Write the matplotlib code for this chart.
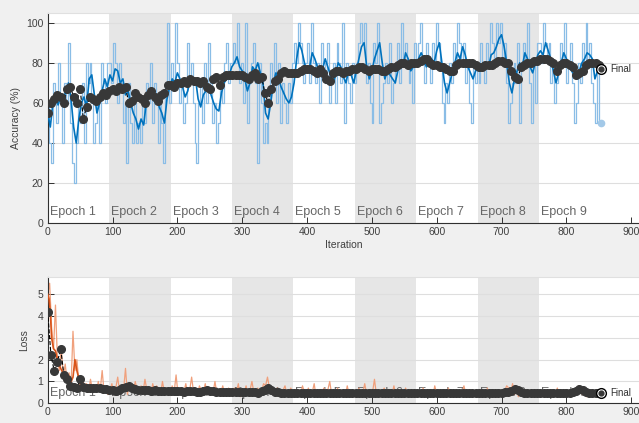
import numpy as np
import matplotlib
matplotlib.use("Agg")
import matplotlib.pyplot as plt

plt.rcParams['font.family'] = ['Liberation Sans', 'DejaVu Sans']

# ---------------- data ----------------
epoch_edges = [0, 95, 190, 284, 379, 474, 568, 663, 758, 853]
epoch_names = ["Epoch 1", "Epoch 2", "Epoch 3", "Epoch 4", "Epoch 5",
               "Epoch 6", "Epoch 7", "Epoch 8", "Epoch 9"]
raw_step = 3      # raw mini-batch values read every 3 iterations
smooth_step = 4   # smoothed accuracy read every 4 iterations
val_step = 5      # validation values read every 5 iterations
final_iter = 853

# mini-batch accuracy (tens of %)
acc_raw_tens = [
    6,4,3,7,6,5,8,6,4,7,6,9,5,3,2,4,6,5,7,4,8,7,8,6,4,5,6,4,8,7,6,8,
    8,7,9,8,6,8,7,5,6,3,7,5,4,6,4,5,4,6,5,7,6,8,5,7,6,4,6,5,3,7,10,6,
    8,7,10,8,6,7,5,6,9,7,8,6,4,3,6,7,5,8,6,9,7,5,6,4,5,7,6,8,9,7,8,
    8,9,8,10,7,8,6,10,5,7,8,9,7,3,8,6,4,5,4,6,8,7,9,6,8,5,7,6,5,7,6,8,
    9,8,10,9,8,7,8,9,7,10,8,7,8,6,9,8,7,9,6,7,8,6,9,8,7,10,5,8,7,6,8,7,
    8,9,10,9,10,7,8,6,5,9,8,10,5,6,7,8,7,9,6,7,8,9,7,10,8,9,8,7,8,6,9,
    8,9,10,8,7,9,8,7,9,8,10,9,8,6,5,7,6,8,7,9,8,10,9,8,9,7,8,6,5,8,7,
    8,7,9,8,7,9,8,10,9,8,10,9,10,8,9,7,5,6,7,8,7,9,5,8,9,8,10,7,5,8,6,9,
    9,8,10,9,8,9,7,8,6,7,8,9,8,10,7,8,9,7,5,6,8,7,9,8,10,8,9,7,6,5,8,5,
]

acc_smooth = [
    55,48,60,64,59,63,61,66,70,62,48,40,52,60,63,58,72,74,64,55,60,66,72,68,
    74,71,77,76,70,72,64,66,60,55,52,47,52,49,60,64,66,61,64,58,55,50,62,68,
    72,70,75,72,68,63,66,72,70,72,62,58,64,66,68,64,60,57,56,65,70,72,74,
    78,80,83,78,76,72,66,70,78,76,80,75,70,55,52,60,70,75,72,68,65,62,60,63,
    70,82,90,86,80,75,78,85,82,78,75,77,82,78,74,70,74,80,78,73,70,76,74,70,
    76,82,88,90,78,72,76,82,86,90,80,72,76,74,72,70,76,80,78,85,82,76,78,
    80,82,85,82,78,80,82,80,86,90,80,70,65,70,75,80,85,82,88,84,78,75,72,76,
    78,76,80,80,78,84,85,88,92,94,88,80,70,65,72,76,80,78,85,82,78,75,80,84,
    86,84,90,86,82,76,70,75,80,85,82,80,76,74,72,76,80,82,85,84,82,72,76,80,
]

val_acc = [
    55,60,62,64,63,60,67,68,63,60,
    67,52,58,63,62,61,63,65,64,66,
    67,66,68,67,68,60,61,65,63,62,
    60,64,66,63,61,64,65,69,69,68,
    70,70,71,70,72,71,71,70,71,68,
    67,72,73,69,73,74,74,74,74,74,
    74,73,72,74,75,72,73,65,60,67,
    71,72,75,76,75,75,75,75,76,77,
    77,77,76,75,77,75,72,71,75,76,
    76,75,76,76,77,77,78,78,77,76,
    77,77,77,76,76,77,78,78,79,80,
    80,79,80,80,80,81,82,82,80,79,
    79,78,78,77,76,76,79,80,80,80,
    80,80,79,78,78,79,79,79,80,81,
    81,80,80,76,73,72,78,79,80,80,
    81,81,82,82,82,81,80,76,79,80,
    80,79,78,74,75,76,79,80,80,80,
    79,
]
final_val_acc = 77
final_batch_acc = 50

# mini-batch loss
loss_raw = [
    5.0,5.5,3.5,2.5,4.5,2.0,1.5,2.5,1.2,1.8,1.0,1.4,0.8,3.3,1.5,2.0,1.0,0.7,1.2,0.6,0.9,0.5,1.1,0.6,0.8,0.5,1.0,0.6,1.5,0.5,0.7,0.4,
    0.6,0.9,0.4,0.7,1.2,0.5,0.8,0.6,1.6,0.4,0.9,0.7,0.5,1.0,0.6,0.4,0.8,0.5,1.1,0.6,0.7,0.4,0.9,0.5,0.8,0.6,0.4,1.0,0.5,0.7,0.6,0.4,
    0.8,0.5,1.3,0.4,0.7,0.6,0.5,0.9,0.4,0.6,1.2,0.5,0.7,0.4,0.8,0.6,0.5,0.9,0.4,0.6,0.7,0.5,1.0,0.4,0.6,0.5,0.8,0.4,0.6,0.7,0.5,
    0.4,0.7,0.5,0.9,0.3,0.6,0.5,0.8,0.4,0.6,1.0,0.5,0.4,0.7,0.5,0.6,0.9,0.8,1.2,0.7,0.5,0.6,0.4,0.7,0.5,0.3,0.6,0.8,0.4,0.5,0.7,0.4,
    0.5,0.3,0.6,0.4,0.8,0.5,0.3,0.7,0.4,0.5,0.9,0.3,0.6,0.4,0.5,0.7,0.3,0.6,1.0,0.4,0.5,0.3,0.7,0.4,0.6,0.5,0.3,0.8,0.4,0.5,0.6,0.3,
    0.4,0.7,0.3,0.5,0.9,0.4,0.6,0.3,0.5,1.1,0.4,0.6,0.3,0.5,0.7,0.4,0.3,0.6,0.4,0.8,0.3,0.5,0.4,0.6,0.3,0.7,0.4,0.5,0.3,0.6,0.4,
    0.3,0.5,0.4,0.7,0.3,0.5,0.4,0.6,0.3,0.8,0.4,0.5,0.3,0.6,0.4,0.3,0.7,0.4,0.5,0.3,0.6,0.4,0.3,0.5,0.8,0.4,0.3,0.6,0.4,0.5,0.3,
    0.5,0.3,0.6,0.4,0.3,0.7,0.4,0.5,0.3,0.6,0.4,0.3,0.5,0.4,0.6,0.8,0.7,0.5,0.9,0.4,0.6,0.3,0.5,0.4,0.3,0.6,0.4,0.5,0.3,0.4,0.6,0.3,
    0.4,0.3,0.5,0.3,0.6,0.4,0.3,0.5,0.4,0.7,0.3,0.4,0.5,0.3,0.6,0.4,0.3,0.5,0.4,0.7,0.8,0.5,0.4,0.6,0.3,0.4,0.5,0.3,0.4,0.3,0.5,0.4,
]

loss_smooth_it = [0,2,4,6,9,12,15,20,25,30,35,39,42,45,50,55,60,70,80,90,100,110,120,130,140,
                  160,180,200,220,240,260,280,300,320,335,340,350,370,400,450,500,550,600,650,
                  700,720,750,800,820,853]
loss_smooth = [5.0,4.8,4.2,3.0,2.5,2.4,2.0,1.6,1.3,1.1,0.9,1.2,2.0,1.5,0.9,0.8,0.75,0.7,0.7,0.65,
               0.6,0.62,0.7,0.65,0.6,0.6,0.58,0.55,0.55,0.55,0.5,0.5,0.5,0.5,0.6,0.65,0.55,0.5,
               0.47,0.46,0.45,0.45,0.44,0.44,0.45,0.5,0.44,0.43,0.5,0.44]

val_loss = [
    4.2,2.2,1.5,1.9,2.5,1.3,1.1,0.8,0.75,0.7,
    1.1,0.75,0.7,0.72,0.7,0.68,0.68,0.65,0.65,0.62,
    0.6,0.58,0.6,0.7,0.75,0.78,0.72,0.65,0.62,0.6,
    0.6,0.6,0.58,0.6,0.58,0.57,0.58,0.56,0.56,0.55,
    0.55,0.55,0.54,0.55,0.56,0.55,0.53,0.54,0.58,0.6,
    0.58,0.55,0.53,0.52,0.52,0.5,0.5,0.52,0.5,0.5,
    0.5,0.5,0.52,0.5,0.5,0.48,0.55,0.62,0.68,0.6,
    0.52,0.5,0.48,0.48,0.47,0.47,0.48,0.47,0.47,0.46,
    0.46,0.47,0.46,0.46,0.47,0.46,0.46,0.47,0.46,0.46,
    0.46,0.47,0.46,0.45,0.46,0.46,0.45,0.45,0.46,0.45,
    0.45,0.45,0.46,0.45,0.45,0.46,0.45,0.45,0.46,0.45,
    0.45,0.45,0.46,0.45,0.45,0.46,0.45,0.45,0.46,0.45,
    0.45,0.46,0.45,0.45,0.46,0.45,0.45,0.46,0.45,0.45,
    0.45,0.45,0.46,0.45,0.46,0.45,0.45,0.47,0.46,0.47,
    0.48,0.5,0.53,0.58,0.65,0.6,0.52,0.48,0.46,0.45,
    0.45,0.46,0.45,0.46,0.46,0.45,0.46,0.45,0.45,0.46,
    0.47,0.48,0.52,0.58,0.65,0.6,0.52,0.47,0.45,0.46,
    0.45,
]
final_val_loss = 0.45

x_ticks = [0, 100, 200, 300, 400, 500, 600, 700, 800, 900]
acc_ticks = [0, 20, 40, 60, 80, 100]
loss_ticks = [0, 1, 2, 3, 4, 5]

# ---------------- styling ----------------
BG = '#f0f0f0'
SHADE = '#e6e6e6'
GRID = '#dedede'
TXT = '#404040'
BLUE = '#0072BD'
LIGHT_BLUE = '#8abde6'
ORANGE = '#D95319'
LIGHT_ORANGE = '#f0a07c'
VAL = '#383838'

W, H = 639, 423
fig = plt.figure(figsize=(W / 100, H / 100), dpi=100, facecolor=BG)
left = 47.7 / W
ax1 = fig.add_axes([left, 1 - 223.3 / H, 1 - left, (223.3 - 12.7) / H])
ax2 = fig.add_axes([left, 1 - 403.3 / H, 1 - left, (403.3 - 276.7) / H])

acc_raw = [v * 10 for v in acc_raw_tens]
raw_it = np.arange(len(acc_raw)) * raw_step
raw_it_loss = np.arange(len(loss_raw)) * raw_step
smooth_it = np.arange(len(acc_smooth)) * smooth_step
val_it = np.arange(len(val_acc)) * val_step
val_it_loss = np.arange(len(val_loss)) * val_step


def style_axes(ax, ylim, yticks, label_y):
    ax.set_facecolor('white')
    ax.set_xlim(0, 912)
    ax.set_ylim(*ylim)
    for i in range(1, len(epoch_edges) - 1, 2):
        ax.axvspan(epoch_edges[i], epoch_edges[i + 1], color=SHADE, zorder=0, lw=0)
    ax.set_yticks(yticks)
    ax.set_xticks(x_ticks)
    ax.yaxis.grid(True, color=GRID, lw=0.8, zorder=0.5)
    ax.set_axisbelow(True)
    ax.tick_params(direction='in', length=4, width=0.7, colors='#303030',
                   labelsize=7.5, labelcolor=TXT, pad=3)
    ax.spines['right'].set_visible(False)
    ax.spines['top'].set_color('#e0e0e0')
    ax.spines['left'].set_color('#303030')
    ax.spines['bottom'].set_color('#303030')
    for sp in ['left', 'bottom', 'top']:
        ax.spines[sp].set_linewidth(0.8)
    for i, name in enumerate(epoch_names):
        ax.text(epoch_edges[i] + 3, label_y, name, fontsize=9, color='#666666',
                va='center', ha='left', zorder=1)


style_axes(ax1, (0, 105), acc_ticks, 5.5)
style_axes(ax2, (0, 5.8), loss_ticks, 0.48)

# accuracy
ax1.plot(raw_it, acc_raw, color=LIGHT_BLUE, lw=0.9, zorder=2, drawstyle='steps-mid')
ax1.plot(smooth_it, acc_smooth, color=BLUE, lw=1.2, zorder=3)
ax1.plot(val_it, val_acc, '--', color='black', lw=0.8, marker='o', ms=5.5,
         mfc=VAL, mec=VAL, zorder=4)
ax1.plot([final_iter], [final_batch_acc], 'o', ms=4.5, color='#a3c9e8', mec='#a3c9e8', zorder=4)
ax1.plot([final_iter], [final_val_acc], 'o', ms=7, mfc='white', mec='black', mew=1.0, zorder=5)
ax1.plot([final_iter], [final_val_acc], 'o', ms=3.5, color=VAL, zorder=6)
ax1.text(final_iter + 14, final_val_acc, 'Final', fontsize=7, color='#303030',
         va='center', ha='left', zorder=6)
ax1.set_ylabel('Accuracy (%)', fontsize=7.5, color=TXT, labelpad=4)
ax1.set_xlabel('Iteration', fontsize=7.5, color=TXT, labelpad=2)

# loss
ax2.plot(raw_it_loss, loss_raw, color=LIGHT_ORANGE, lw=0.9, zorder=2)
ax2.plot(loss_smooth_it, loss_smooth, color=ORANGE, lw=1.2, zorder=3)
ax2.plot(val_it_loss, val_loss, '--', color='black', lw=0.8, marker='o', ms=5.5,
         mfc=VAL, mec=VAL, zorder=4)
ax2.plot([final_iter], [final_val_loss], 'o', ms=7, mfc='white', mec='black', mew=1.0, zorder=5)
ax2.plot([final_iter], [final_val_loss], 'o', ms=3.5, color=VAL, zorder=6)
ax2.text(final_iter + 14, final_val_loss, 'Final', fontsize=7, color='#303030',
         va='center', ha='left', zorder=6)
ax2.set_ylabel('Loss', fontsize=7.5, color=TXT, labelpad=6)

fig.savefig('out.png', dpi=100, facecolor=BG)
